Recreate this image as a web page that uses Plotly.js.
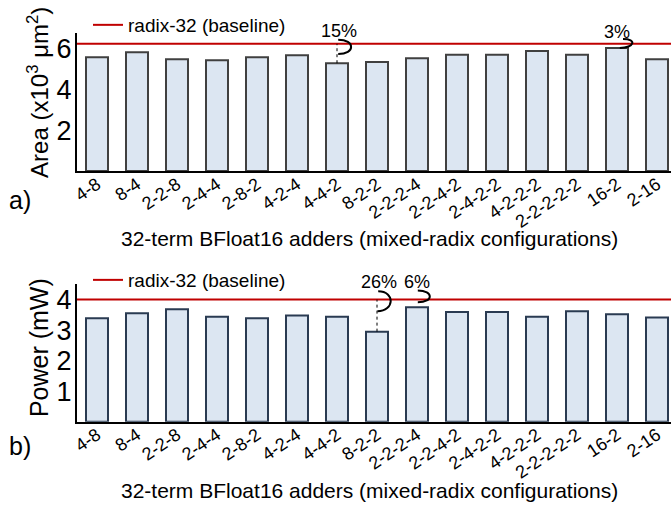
<!DOCTYPE html>
<html>
<head>
<meta charset="utf-8">
<script src="https://cdn.plot.ly/plotly-3.0.1.min.js"></script>
<style>html,body{margin:0;padding:0;background:#fff;}#chart{width:671px;height:506px;}</style>
</head>
<body>
<div id="chart"></div>
<script>
// ---- data ----
const configs = ["4-8","8-4","2-2-8","2-4-4","2-8-2","4-2-4","4-4-2","8-2-2","2-2-2-4","2-2-4-2","2-4-2-2","4-2-2-2","2-2-2-2-2","16-2","2-16"];
const areaValues = [5.57,5.82,5.48,5.43,5.57,5.67,5.28,5.34,5.52,5.69,5.69,5.88,5.69,6.03,5.48];
const powerValues = [3.39,3.55,3.68,3.44,3.39,3.48,3.44,2.95,3.75,3.59,3.59,3.44,3.62,3.52,3.41];
const areaBaseline = 6.23;
const powerBaseline = 4.0;
const baselineName = "radix-32 (baseline)";
const areaTicks = [2,4,6];
const powerTicks = [1,2,3,4];
const areaNotes = [{cfg:"4-4-2", text:"15%"}, {cfg:"16-2", text:"3%"}];
const powerNotes = [{cfg:"8-2-2", text:"26%"}, {cfg:"2-2-2-4", text:"6%"}];
const xTitle = "32-term BFloat16 adders (mixed-radix configurations)";
const areaTitle = "Area (x10<sup>3</sup> μm<sup>2</sup>)";
const powerTitle = "Power (mW)";

// ---- styling ----
const FONT = "Liberation Sans, Arial, Helvetica, sans-serif";
const idx = configs.map((c,i)=>i);
const fill = "#dce6f2";
const red = "#c00000";
const span = [-1, configs.length];

const traces = [
  {type:"bar", x: idx, y: areaValues, xaxis:"x", yaxis:"y", width:0.55,
   marker:{color:fill, line:{color:"#404040", width:2}}, showlegend:false, hoverinfo:"skip"},
  {type:"scatter", mode:"lines", x: span, y: span.map(()=>areaBaseline), xaxis:"x", yaxis:"y",
   line:{color:red, width:2}, name: baselineName, legend:"legend", showlegend:true, hoverinfo:"skip"},
  {type:"bar", x: idx, y: powerValues, xaxis:"x2", yaxis:"y2", width:0.55,
   marker:{color:fill, line:{color:"#2a3b52", width:2}}, showlegend:false, hoverinfo:"skip"},
  {type:"scatter", mode:"lines", x: span, y: span.map(()=>powerBaseline), xaxis:"x2", yaxis:"y2",
   line:{color:red, width:2}, name: baselineName, legend:"legend2", showlegend:true, hoverinfo:"skip"}
];

function xAxis(anchor){
  return {anchor: anchor, domain:[0,1], range:[-0.5,14.35], tickmode:"array",
    tickvals: idx, ticktext: configs, tickangle:-34, ticks:"", ticklabelstandoff:-6,
    tickfont:{family:FONT, size:18, color:"#000"},
    showline:true, linecolor:"#000", linewidth:2, showgrid:false, zeroline:false};
}
function yAxis(anchor, domain, range, ticks){
  return {anchor: anchor, domain: domain, range: range, tickmode:"array", tickvals: ticks,
    ticks:"", ticklabelstandoff:-2, tickfont:{family:FONT, size:27, color:"#000"},
    showline:true, linecolor:"#000", linewidth:2, showgrid:false, zeroline:false};
}

const shapes = [];
const annotations = [];
function addNote(xref, yref, vals, base, note, opts){
  const i = configs.indexOf(note.cfg);
  const v = vals[i];
  annotations.push({xref:xref, yref:yref, x:i, y:base, text:note.text, showarrow:false,
    xanchor:"center", yanchor:"middle", yshift:opts.ty, xshift:opts.tx,
    font:{family:FONT, size:18, color:"#000"}});
  if (opts.dash) {
    shapes.push({type:"line", xref:xref, yref:yref, x0:i, x1:i, y0:v, y1:base,
      line:{color:"#000", width:1, dash:"dot"}});
  }
  const x0 = i + opts.bx0, x1 = i + opts.bx1, y0 = base + opts.by0, y1 = (opts.toBar ? v : base + opts.by1);
  const k = opts.k;
  shapes.push({type:"path", xref:xref, yref:yref,
    path:"M " + x0 + "," + y0 + " C " + (x0+k) + "," + y0 + " " + (x1+k) + "," + y1 + " " + x1 + "," + y1,
    line:{color:"#000", width:2}});
}
addNote("x","y",areaValues,areaBaseline,areaNotes[0],{ty:13,tx:2,dash:true,bx0:0.03,bx1:0.03,by0:0.2,by1:-0.5,k:0.43});
addNote("x","y",areaValues,areaBaseline,areaNotes[1],{ty:12,tx:0,dash:false,bx0:0.15,bx1:0.07,by0:0.23,toBar:true,k:0.36});
addNote("x2","y2",powerValues,powerBaseline,powerNotes[0],{ty:18,tx:2,dash:true,bx0:0.03,bx1:0.01,by0:0.27,by1:-0.38,k:0.43});
addNote("x2","y2",powerValues,powerBaseline,powerNotes[1],{ty:18,tx:0,dash:false,bx0:0.02,bx1:0.02,by0:0.3,by1:-0.09,k:0.4});

function paperText(text, x, y, size, angle, xanchor){
  annotations.push({xref:"paper", yref:"paper", x:x, y:y, xanchor:xanchor||"center", yanchor:"middle",
    text:text, showarrow:false, textangle:angle||0, font:{family:FONT,size:size,color:"#000"}});
}
paperText("a)", -0.118, 0.604, 25, 0, "left");
paperText("b)", -0.118, 0.118, 25, 0, "left");
paperText(areaTitle, -0.066, 0.818, 24, -90);
paperText(powerTitle, -0.064, 0.314, 25, -90);
paperText(xTitle, 0.4916, 0.5296, 21);
paperText(xTitle, 0.4916, 0.0316, 21);

function legendStyle(y){
  return {x:0.0185, y:y, xanchor:"left", yanchor:"middle", bgcolor:"rgba(0,0,0,0)",
    borderwidth:0, font:{family:FONT,size:19,color:"#000"}};
}

const layout = {
  width:671, height:506, margin:{l:77, r:0, t:0, b:0},
  paper_bgcolor:"#fff", plot_bgcolor:"#fff",
  font:{family:FONT, color:"#000"},
  xaxis: xAxis("y"),
  yaxis: yAxis("x", [0.662,0.9348], [0,6.76], areaTicks),
  xaxis2: xAxis("y2"),
  yaxis2: yAxis("x2", [0.1666,0.4387], [0,4.51], powerTicks),
  legend: legendStyle(0.9506),
  legend2: legendStyle(0.4466),
  shapes: shapes,
  annotations: annotations
};

Plotly.newPlot("chart", traces, layout, {displayModeBar:false});
</script>
</body>
</html>
